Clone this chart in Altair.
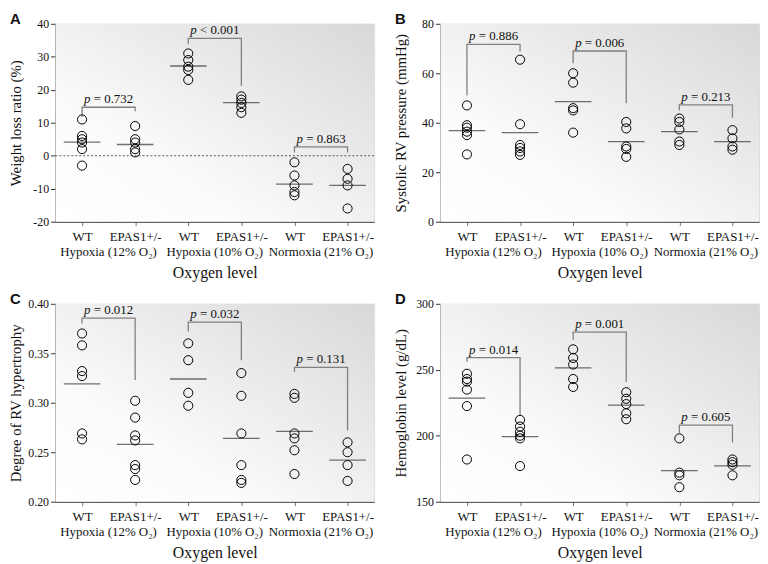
import altair as alt
import pandas as pd

CATS = ["WT_12", "EP_12", "WT_10", "EP_10", "WT_21", "EP_21"]
GROUPS = ["Hypoxia (12% O₂)", "Hypoxia (10% O₂)", "Normoxia (21% O₂)"]

# Panel A: weight loss ratio (%)
A_POINTS = [[11, 6, 5, 4, 2, -3], [9, 5, 4, 2, 1], [31, 29, 27, 26, 23],
            [18, 17, 16, 14.7, 13], [-2, -6, -9, -11, -12], [-4, -7, -9, -16]]
A_MEANS = [4.1, 3.4, 27.2, 16.1, -8.6, -9.0]
A_BR_LEFT = [11.8, 33.8, 1.0]
A_BR_TOP = [14.7, 35.6, 2.7]
A_BR_RIGHT = [13.5, 21.2, 1.0]
A_P = ["= 0.732", "< 0.001", "= 0.863"]

# Panel B: systolic RV pressure (mmHg)
B_POINTS = [[47, 39, 38, 36.4, 35, 27.2], [65.5, 39.4, 31, 29.8, 28.4, 27],
            [60, 56.2, 45.9, 45, 36], [40.3, 37.7, 30.4, 29.4, 26.2],
            [41.7, 40.3, 37.3, 32.4, 31], [37, 33.7, 30.4, 29.1]]
B_MEANS = [36.8, 36.0, 48.5, 32.4, 36.4, 32.4]
B_BR_LEFT = [51, 64, 45]
B_BR_TOP = [71.7, 69, 47.2]
B_BR_RIGHT = [68.8, 47.9, 42]
B_P = ["= 0.886", "= 0.006", "= 0.213"]

# Panel C: degree of RV hypertrophy
C_POINTS = [[0.370, 0.358, 0.332, 0.327, 0.269, 0.263],
            [0.302, 0.285, 0.267, 0.262, 0.237, 0.233, 0.222],
            [0.360, 0.343, 0.310, 0.297],
            [0.330, 0.307, 0.269, 0.237, 0.222, 0.219],
            [0.309, 0.305, 0.269, 0.264, 0.252, 0.228],
            [0.260, 0.250, 0.237, 0.221]]
C_MEANS = [0.319, 0.258, 0.324, 0.264, 0.271, 0.242]
C_BR_LEFT = [0.380, 0.372, 0.331]
C_BR_TOP = [0.3855, 0.3815, 0.3357]
C_BR_RIGHT = [0.323, 0.343, 0.272]
C_P = ["= 0.012", "= 0.032", "= 0.131"]

# Panel D: hemoglobin level (g/dL)
D_POINTS = [[247, 243, 241, 235, 222.5, 182], [212, 207, 203, 200, 198, 177],
            [265.5, 259, 254, 243, 237], [233, 228, 224, 217, 212.5],
            [198, 172, 170, 161], [182, 180, 178, 170]]
D_MEANS = [228.5, 199.3, 251.4, 223.2, 173.6, 177.2]
D_BR_LEFT = [256, 272.8, 202.3]
D_BR_TOP = [259.2, 278.6, 208.1]
D_BR_RIGHT = [215.7, 240.8, 194.8]
D_P = ["= 0.014", "= 0.001", "= 0.605"]

W, H = 322, 200
STEP = W / 6.0
SERIF = "Liberation Serif"


def panel(letter, ytitle, domain, ticks, fmt, points, means, br_l, br_t, br_r, pstr, zero=False):
    pts = pd.DataFrame([{"cat": c, "v": v} for c, vals in zip(CATS, points) for v in vals])
    mdf = pd.DataFrame({"cat": CATS, "m": means})
    rows = []
    for i in range(3):
        cl, cr = CATS[2 * i], CATS[2 * i + 1]
        rows += [
            {"id": i, "seq": 0, "cat": cl, "v": br_l[i]},
            {"id": i, "seq": 1, "cat": cl, "v": br_t[i]},
            {"id": i, "seq": 2, "cat": cr, "v": br_t[i]},
            {"id": i, "seq": 3, "cat": cr, "v": br_r[i]},
        ]
    bdf = pd.DataFrame(rows)
    pdf = pd.DataFrame({"cat": CATS[0::2], "top": br_t, "p": pstr})
    gdf = pd.DataFrame({"cat": CATS[0::2], "g": GROUPS})

    xs = alt.Scale(type="point", domain=CATS, padding=0.5)
    ys = alt.Scale(domain=domain, nice=False, zero=False)
    xaxis = alt.Axis(title="Oxygen level",
                     labelExpr="indexof(datum.value, 'WT') == 0 ? 'WT' : 'EPAS1+/-'")
    lbl = ("datum.value < 0 ? '-' + format(-datum.value, '%s') : format(datum.value, '%s')"
           % (fmt, fmt))
    yaxis = alt.Axis(title=ytitle, values=ticks, labelExpr=lbl)

    def X():
        return alt.X("cat:N", scale=xs, sort=CATS, axis=xaxis)

    def Y(f):
        return alt.Y(f, scale=ys, axis=yaxis)

    bg = alt.Chart(alt.Data(values=[{}])).mark_rect(
        color=alt.LinearGradient(gradient="linear", x1=0, y1=1, x2=1, y2=0, stops=[
            alt.GradientStop(offset=0, color="#ffffff"),
            alt.GradientStop(offset=0.3, color="#fbfbfb"),
            alt.GradientStop(offset=1, color="#d8d8d8")])
    ).encode(x=alt.value(0), x2=alt.value(W), y=alt.value(0), y2=alt.value(H))

    layers = [bg]
    layers.append(alt.Chart(bdf).mark_line(color="#808080", strokeWidth=1.3).encode(
        x=X(), y=Y("v:Q"), detail="id:N", order="seq:Q"))
    if zero:
        zdf = pd.DataFrame({"z": [0]})
        layers.append(alt.Chart(zdf).mark_rule(color="#555", strokeDash=[2, 2], strokeWidth=1)
                      .encode(y=Y("z:Q")))
    layers.append(alt.Chart(mdf).mark_tick(color="#333", size=37, thickness=1.3).encode(
        x=X(), y=Y("m:Q")))
    layers.append(alt.Chart(pts).mark_point(shape="circle", filled=False, color="black",
                                            size=85, strokeWidth=1, opacity=1).encode(
        x=X(), y=Y("v:Q")))
    layers.append(alt.Chart(pdf).mark_text(text="p", font=SERIF, fontStyle="italic", fontSize=13,
                                           align="right", baseline="middle",
                                           dx=STEP / 2 - 18.3, dy=-8, color="#111").encode(
        x=X(), y=Y("top:Q")))
    layers.append(alt.Chart(pdf).mark_text(font=SERIF, fontSize=13, align="left",
                                           baseline="middle", dx=STEP / 2 - 15, dy=-8,
                                           color="#111").encode(
        x=X(), y=Y("top:Q"), text="p:N"))
    layers.append(alt.Chart(gdf).mark_text(font=SERIF, fontSize=13, align="center",
                                           baseline="middle", dx=STEP / 2, color="#111").encode(
        x=X(), y=alt.value(H + 31), text="g:N"))
    layers.append(alt.Chart(alt.Data(values=[{}])).mark_text(
        text=letter, font="Liberation Sans", fontWeight="bold", fontSize=15,
        align="left", baseline="top", color="#111").encode(
        x=alt.value(-46), y=alt.value(-12)))
    return alt.layer(*layers).properties(width=W, height=H)


pa = panel("A", "Weight loss ratio (%)", [-20, 40], [-20, -10, 0, 10, 20, 30, 40], "d",
           A_POINTS, A_MEANS, A_BR_LEFT, A_BR_TOP, A_BR_RIGHT, A_P, zero=True)
pb = panel("B", "Systolic RV pressure (mmHg)", [0, 80], [0, 20, 40, 60, 80], "d",
           B_POINTS, B_MEANS, B_BR_LEFT, B_BR_TOP, B_BR_RIGHT, B_P)
pc = panel("C", "Degree of RV hypertrophy", [0.2, 0.4], [0.2, 0.25, 0.3, 0.35, 0.4], ".2f",
           C_POINTS, C_MEANS, C_BR_LEFT, C_BR_TOP, C_BR_RIGHT, C_P)
pd_ = panel("D", "Hemoglobin level (g/dL)", [150, 300], [150, 200, 250, 300], "d",
            D_POINTS, D_MEANS, D_BR_LEFT, D_BR_TOP, D_BR_RIGHT, D_P)

chart = alt.vconcat(
    alt.hconcat(pa, pb, spacing=18),
    alt.hconcat(pc, pd_, spacing=18),
    spacing=10,
).properties(padding={"left": 0, "top": 0, "right": 0, "bottom": 0}
).configure_view(stroke=None).configure(font=SERIF).configure_axis(
    grid=False, labelFont=SERIF, titleFont=SERIF, labelColor="#111", titleColor="#111",
    titleFontWeight="normal", domainColor="#333", domainWidth=1.3, labelOverlap=False,
).configure_axisX(
    labelAngle=0, labelFontSize=13, labelPadding=5, tickSize=4, tickColor="#777",
    titleFontSize=16, titlePadding=21,
).configure_axisY(
    labelFontSize=12, labelPadding=2, tickSize=5, tickColor="#333", titleFontSize=15,
    titlePadding=5, minExtent=27, maxExtent=27,
).configure_text(font=SERIF)

chart.save("out.html", embed_options={"renderer": "svg", "actions": False})
